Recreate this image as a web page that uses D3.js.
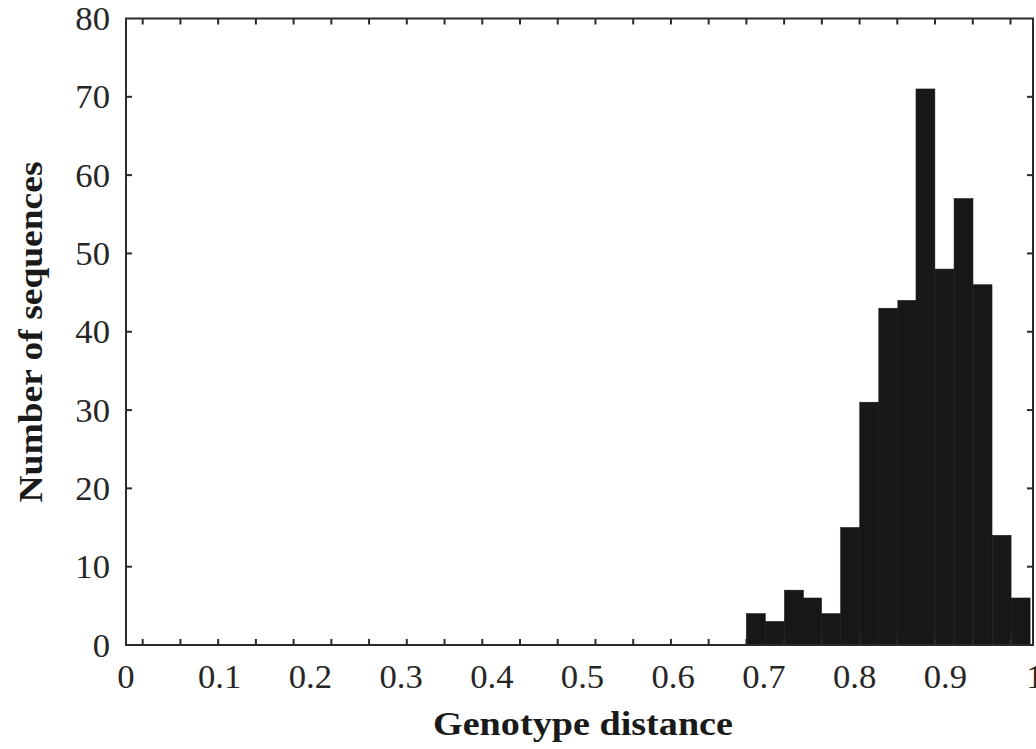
<!DOCTYPE html>
<html>
<head>
<meta charset="utf-8">
<script src="https://cdn.jsdelivr.net/npm/d3@7"></script>
<style>
  html, body { margin: 0; padding: 0; background: #fff; }
  svg { display: block; }
</style>
</head>
<body>
<svg id="chart" width="1036" height="749"></svg>
<script>
// ---- data ----
const binStarts = [0.684, 0.705, 0.726, 0.746, 0.767, 0.788, 0.809, 0.830, 0.851, 0.871, 0.892, 0.913, 0.934, 0.955, 0.976];
const binWidth = 0.0208;
const counts = [4, 3, 7, 6, 4, 15, 31, 43, 44, 71, 48, 57, 46, 14, 6];
const xTickLabels = [0, 0.1, 0.2, 0.3, 0.4, 0.5, 0.6, 0.7, 0.8, 0.9, 1];
const yTicks = [0, 10, 20, 30, 40, 50, 60, 70, 80];
const minorTickFirst = 0.0184, minorTickStep = 0.0416, minorTickCount = 24;
const xTitle = "Genotype distance";
const yTitle = "Number of sequences";

// ---- layout ----
const mLeft = 126, mRight = 1033, mTop = 18.5, mBottom = 645;
const svg = d3.select("#chart");
const x = d3.scaleLinear().domain([0, 1]).range([mLeft, mRight]);
const y = d3.scaleLinear().domain([0, 80]).range([mBottom, mTop]);
const font = "'Liberation Serif', 'Times New Roman', serif";
const axisColor = "#2b2b2b";
const widen = 1.05; // reference face is slightly wider than Liberation Serif

// bars
svg.append("g").selectAll("rect").data(counts).join("rect")
  .attr("x", (d, i) => x(binStarts[i]))
  .attr("width", (d, i) => x(binStarts[i] + binWidth) - x(binStarts[i]))
  .attr("y", d => y(d))
  .attr("height", d => y(0) - y(d))
  .attr("fill", "#181616")
  .attr("stroke", "#181616")
  .attr("stroke-width", 0.6);

// frame
svg.append("rect")
  .attr("x", mLeft).attr("y", mTop)
  .attr("width", mRight - mLeft).attr("height", mBottom - mTop)
  .attr("fill", "none").attr("stroke", axisColor).attr("stroke-width", 2);

// minor x ticks (bottom pointing up, top pointing down)
const minorTicks = d3.range(minorTickCount).map(i => minorTickFirst + i * minorTickStep);
const tickLen = 6;
svg.append("g").selectAll("line").data(minorTicks).join("line")
  .attr("x1", d => x(d)).attr("x2", d => x(d))
  .attr("y1", mBottom).attr("y2", mBottom - tickLen)
  .attr("stroke", axisColor).attr("stroke-width", 2);
svg.append("g").selectAll("line").data(minorTicks).join("line")
  .attr("x1", d => x(d)).attr("x2", d => x(d))
  .attr("y1", mTop).attr("y2", mTop + tickLen)
  .attr("stroke", axisColor).attr("stroke-width", 2);

// y ticks left & right (inward)
const innerY = yTicks.filter(d => d > 0 && d < 80);
svg.append("g").selectAll("line").data(innerY).join("line")
  .attr("x1", mLeft).attr("x2", mLeft + tickLen)
  .attr("y1", d => y(d)).attr("y2", d => y(d))
  .attr("stroke", axisColor).attr("stroke-width", 2);
svg.append("g").selectAll("line").data(innerY).join("line")
  .attr("x1", mRight).attr("x2", mRight - tickLen)
  .attr("y1", d => y(d)).attr("y2", d => y(d))
  .attr("stroke", axisColor).attr("stroke-width", 2);

function stretch(sel) {
  sel.each(function () {
    const w = this.getComputedTextLength();
    d3.select(this).attr("textLength", w * widen).attr("lengthAdjust", "spacingAndGlyphs");
  });
}

// y tick labels
svg.append("g").selectAll("text").data(yTicks).join("text")
  .attr("x", 110).attr("y", d => y(d))
  .attr("dy", "0.35em")
  .attr("text-anchor", "end")
  .attr("font-family", font).attr("font-size", 33)
  .attr("fill", "#262626")
  .text(d => d)
  .call(stretch);

// x tick labels
svg.append("g").selectAll("text").data(xTickLabels).join("text")
  .attr("x", d => x(d) + (d === 0 ? 0 : d === 1 ? 2 : 3)).attr("y", 688)
  .attr("text-anchor", "middle")
  .attr("font-family", font).attr("font-size", 33)
  .attr("fill", "#262626")
  .text(d => d)
  .call(stretch);

// axis titles
svg.append("text")
  .attr("x", 583).attr("y", 735)
  .attr("text-anchor", "middle")
  .attr("font-family", font).attr("font-size", 34).attr("font-weight", "bold")
  .attr("fill", "#1a1a1a")
  .attr("textLength", 300).attr("lengthAdjust", "spacingAndGlyphs")
  .text(xTitle);
svg.append("text")
  .attr("transform", "translate(42,332) rotate(-90)")
  .attr("text-anchor", "middle")
  .attr("font-family", font).attr("font-size", 34).attr("font-weight", "bold")
  .attr("fill", "#1a1a1a")
  .attr("textLength", 341).attr("lengthAdjust", "spacingAndGlyphs")
  .text(yTitle);
</script>
</body>
</html>
